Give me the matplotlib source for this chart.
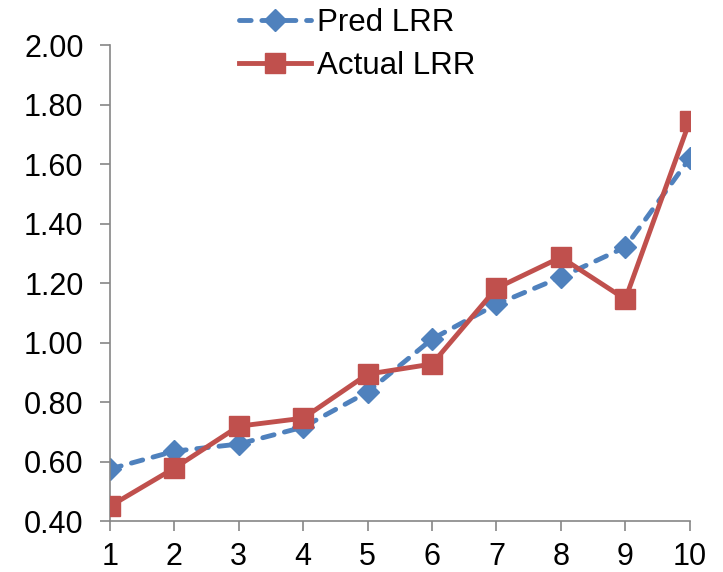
import matplotlib.pyplot as plt

plt.rcParams['font.family'] = ['Liberation Sans', 'DejaVu Sans']

# data
x = [1, 2, 3, 4, 5, 6, 7, 8, 9, 10]
pred_lrr = [0.575, 0.635, 0.659, 0.716, 0.834, 1.012, 1.129, 1.220, 1.321, 1.620]
actual_lrr = [0.450, 0.578, 0.719, 0.746, 0.894, 0.928, 1.183, 1.287, 1.146, 1.745]
y_ticks = [0.40, 0.60, 0.80, 1.00, 1.20, 1.40, 1.60, 1.80, 2.00]

fig = plt.figure(figsize=(7.23, 5.72), dpi=100)
ax = fig.add_axes([0.152, 0.089, 0.802, 0.832])

ax.plot(x, pred_lrr, color='#4F81BD', linestyle=(0, (2.4, 2.2)), linewidth=3.5,
        dash_capstyle='round', marker='D', markersize=11, label='Pred LRR', zorder=2)
ax.plot(x, actual_lrr, color='#C0504D', linewidth=3.5,
        marker='s', markersize=14, label='Actual LRR', zorder=3)

ax.set_xlim(1, 10)
ax.set_ylim(0.40, 2.00)
ax.set_xticks(x)
ax.set_yticks(y_ticks)
ax.set_yticklabels([f'{v:.2f}' for v in y_ticks])

for s in ['top', 'right']:
    ax.spines[s].set_visible(False)
for s in ['left', 'bottom']:
    ax.spines[s].set_color('#868686')
    ax.spines[s].set_linewidth(1.2)
ax.tick_params(axis='both', colors='#868686', labelcolor='black', labelsize=22,
               length=7, width=1.2, direction='out')
ax.tick_params(axis='x', pad=8)
ax.tick_params(axis='y', pad=12)
for lbl in ax.get_xticklabels() + ax.get_yticklabels():
    lbl.set_clip_on(False)

fig.legend(loc='upper center', bbox_to_anchor=(0.494, 1.035), frameon=False,
           fontsize=22.5, handlelength=2.3, handletextpad=0.2, labelspacing=0.4)

fig.savefig('out.png', dpi=100)
